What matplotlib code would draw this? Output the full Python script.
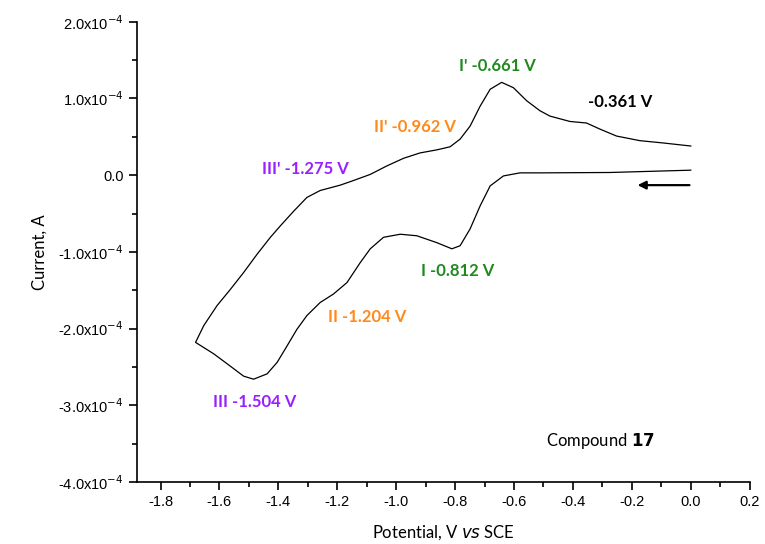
import matplotlib
matplotlib.use("Agg")
import matplotlib.pyplot as plt
from matplotlib.ticker import FuncFormatter, MultipleLocator

# cyclic voltammogram (V, 1e-4 A)
# cathodic sweep from 0.0 V towards negative potentials
fwd_v = [0.00, -0.275, -0.512, -0.580, -0.636, -0.681, -0.715, -0.749, -0.783,
         -0.811, -0.862, -0.930, -0.986, -1.043, -1.088, -1.122, -1.167, -1.213,
         -1.258, -1.303, -1.337, -1.371, -1.404, -1.438, -1.484, -1.518, -1.563,
         -1.619, -1.681]
fwd_i = [0.065, 0.035, 0.03, 0.03, -0.01, -0.14, -0.40, -0.70, -0.92,
         -0.96, -0.88, -0.79, -0.77, -0.81, -0.96, -1.14, -1.40, -1.55,
         -1.66, -1.83, -2.01, -2.23, -2.44, -2.59, -2.66, -2.62, -2.49,
         -2.33, -2.18]
# anodic return sweep
rev_v = [-1.681, -1.653, -1.608, -1.563, -1.518, -1.472, -1.427, -1.393, -1.348,
         -1.303, -1.258, -1.190, -1.145, -1.088, -1.032, -0.975, -0.919, -0.862,
         -0.817, -0.783, -0.749, -0.715, -0.681, -0.642, -0.602, -0.557, -0.512,
         -0.478, -0.410, -0.354, -0.308, -0.252, -0.173, -0.094, 0.00]
rev_i = [-2.18, -1.96, -1.70, -1.49, -1.27, -1.03, -0.81, -0.66, -0.47,
         -0.29, -0.20, -0.13, -0.07, 0.01, 0.12, 0.22, 0.29, 0.33,
         0.37, 0.47, 0.64, 0.90, 1.12, 1.21, 1.14, 0.97, 0.84,
         0.77, 0.70, 0.68, 0.60, 0.51, 0.45, 0.42, 0.38]

peak_labels = ["I' -0.661 V", "-0.361 V", "II' -0.962 V", "III' -1.275 V",
               "I -0.812 V", "II -1.204 V", "III -1.504 V"]
label_x = [-0.658, -0.241, -0.936, -1.308, -0.793, -1.10, -1.481]
label_y = [1.42, 0.95, 0.63, 0.08, -1.25, -1.85, -2.96]
label_colors = ["#1e8a1e", "black", "#ff8a1c", "#9a1eff",
                "#1e8a1e", "#ff8a1c", "#9a1eff"]

fig = plt.figure(figsize=(7.65, 5.44), dpi=100)
ax = fig.add_axes([0.179, 0.114, 0.801, 0.846])

ax.plot(fwd_v + rev_v, [i * 1e-4 for i in fwd_i + rev_i], color="black", lw=0.9)

for txt, x, y, c in zip(peak_labels, label_x, label_y, label_colors):
    ax.text(x, y * 1e-4, txt, color=c, fontsize=12, fontweight="bold",
            family="Lato", ha="center", va="center")

ax.annotate("", xy=(-0.19, -0.13e-4), xytext=(0.005, -0.13e-4),
            arrowprops=dict(arrowstyle="-|>", color="black", lw=1.6,
                            mutation_scale=12))
ax.text(-0.308, -3.47e-4, "Compound $\\mathbf{17}$", fontsize=12, family="Lato",
        ha="center", va="center")

ax.set_xlim(-1.88, 0.2)
ax.set_ylim(-4e-4, 2e-4)
ax.xaxis.set_minor_locator(MultipleLocator(0.1))
ax.yaxis.set_major_locator(MultipleLocator(1e-4))
ax.yaxis.set_minor_locator(MultipleLocator(0.5e-4))
ax.set_xticks([-1.8, -1.6, -1.4, -1.2, -1.0, -0.8, -0.6, -0.4, -0.2, 0.0, 0.2])


def yfmt(v, pos):
    if abs(v) < 1e-12:
        return "0.0"
    return "%.1fx10$^{-4}$" % (v / 1e-4)


ax.yaxis.set_major_formatter(FuncFormatter(yfmt))
ax.xaxis.set_major_formatter(FuncFormatter(lambda v, p: "%.1f" % v))

for s in ["top", "right"]:
    ax.spines[s].set_visible(False)
for s in ["left", "bottom"]:
    ax.spines[s].set_linewidth(1.2)
ax.tick_params(which="major", length=6, width=1.2, labelsize=10.5)
ax.tick_params(which="minor", length=3.5, width=1.2)
for lab in ax.get_xticklabels() + ax.get_yticklabels():
    lab.set_family("Liberation Sans")

ax.set_xlabel("Potential, V $\\it{vs}$ SCE", fontsize=12, family="Lato", labelpad=10)
ax.set_ylabel("Current, A", fontsize=12, family="Lato", labelpad=8)

fig.savefig("out.png", dpi=100)
